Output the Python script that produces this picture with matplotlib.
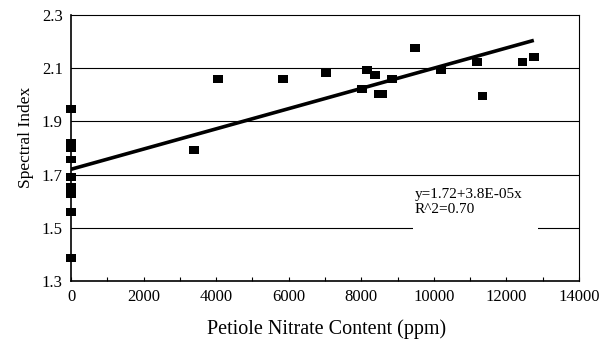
import matplotlib
matplotlib.use("Agg")
import matplotlib.pyplot as plt
from matplotlib.patches import Rectangle
from matplotlib.ticker import MultipleLocator
import numpy as np

# Petiole nitrate (ppm) vs spectral index
nitrate_ppm = [0, 0, 0, 0, 0, 0, 0, 0, 0, 0,
               3390, 4040, 5850, 7025, 8020, 8165, 8385, 8480, 8560,
               8845, 9480, 10200, 11185, 11340, 12445, 12755]
spectral_index = [1.947, 1.820, 1.800, 1.757, 1.692, 1.655, 1.640, 1.626, 1.558, 1.385,
                  1.791, 2.059, 2.059, 2.081, 2.021, 2.093, 2.074, 2.002, 2.002,
                  2.059, 2.177, 2.094, 2.124, 1.997, 2.123, 2.141]

# Linear fit parameters
intercept = 1.72
slope = 3.8e-05
r_squared = 0.70
fit_x = [0, 12755]

x_ticks = [0, 2000, 4000, 6000, 8000, 10000, 12000, 14000]
y_ticks = [1.3, 1.5, 1.7, 1.9, 2.1, 2.3]

plt.rcParams['font.family'] = ['Liberation Serif', 'DejaVu Serif']

fig = plt.figure(figsize=(6.15, 3.41), dpi=100)
ax = fig.add_axes([71/615, 1 - 281/341, (579 - 71)/615, (281 - 15)/341])

ax.set_xlim(0, 14000)
ax.set_ylim(1.3, 2.3)
ax.set_xticks(x_ticks)
ax.set_yticks(y_ticks)
ax.xaxis.set_minor_locator(MultipleLocator(1000))
ax.tick_params(axis='x', which='both', direction='in', length=3, width=0.8,
               labelsize=12, pad=6)
ax.tick_params(axis='y', length=0, labelsize=12, pad=6)

for s in ax.spines.values():
    s.set_linewidth(0.8)
    s.set_color('black')
ax.spines['left'].set_linewidth(1.2)
ax.spines['bottom'].set_linewidth(1.2)

for yv in y_ticks[1:-1]:
    ax.axhline(yv, color='black', linewidth=0.8, zorder=1)

# Fitted regression line
fx = np.array(fit_x, dtype=float)
ax.plot(fx, intercept + slope * fx, color='black', linewidth=2.6,
        solid_capstyle='butt', zorder=3)

# Rectangular markers, slightly wider than tall
rect_marker = [(-1, -0.8), (1, -0.8), (1, 0.8), (-1, 0.8), (-1, -0.8)]
ax.scatter(nitrate_ppm, spectral_index, marker=rect_marker, s=50,
           color='black', edgecolors='none', zorder=4, clip_on=False)

# Equation label on a white background
ax.add_patch(Rectangle((9420, 1.45), 3440, 0.2, facecolor='white',
                       edgecolor='none', zorder=2))
ax.text(9480, 1.648, f"y={intercept:.2f}+{slope:.1E}x\nR^2={r_squared:.2f}",
        fontsize=11, va='top', ha='left', linespacing=1.15, zorder=5)

ax.set_xlabel("Petiole Nitrate Content (ppm)", fontsize=14.5)
ax.set_ylabel("Spectral Index", fontsize=12.5)
ax.xaxis.set_label_coords(0.504, -0.143)
ax.yaxis.set_label_coords(-0.073, 0.54)

fig.savefig("out.png", dpi=100)
